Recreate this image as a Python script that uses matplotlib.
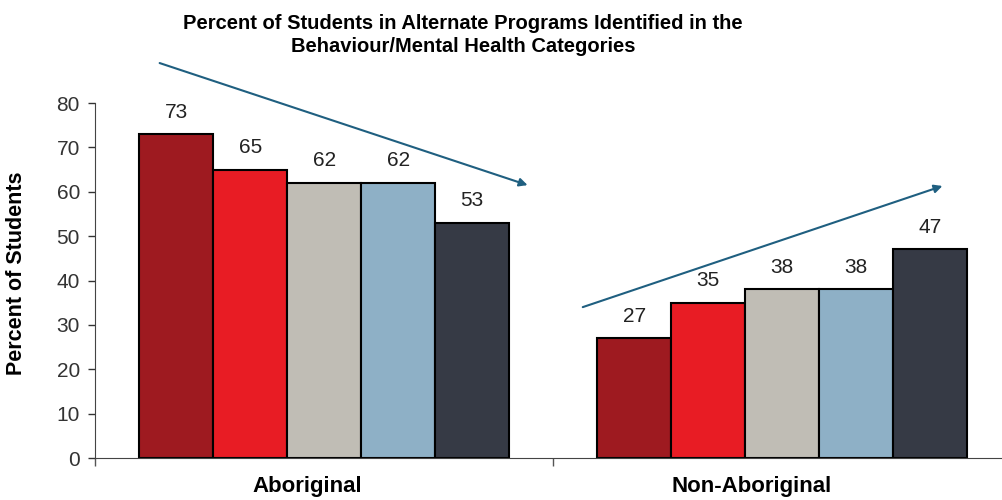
import matplotlib.pyplot as plt
import numpy as np

# data
groups = ['Aboriginal', 'Non-Aboriginal']
series_colors = ['#9E1A20', '#E81C24', '#C0BDB5', '#8EB0C6', '#363A45']
values = [
    [73, 27],
    [65, 35],
    [62, 38],
    [62, 38],
    [53, 47],
]
yticks = [0, 10, 20, 30, 40, 50, 60, 70, 80]

plt.rcParams['font.family'] = ['Liberation Sans', 'DejaVu Sans']

fig = plt.figure(figsize=(10.02, 5.0), dpi=100)
# axis runs a little past the right edge, as in the original
ax = fig.add_axes([0.095, 0.084, 0.914, 0.71])

n = len(values)
group_w = 0.808
width = group_w / n
centers = np.arange(len(groups)) + 0.5

for i, (vals, col) in enumerate(zip(values, series_colors)):
    x = centers - group_w / 2 + width * (i + 0.5)
    bars = ax.bar(x, vals, width=width, color=col, edgecolor='black', linewidth=1.5)
    for b, v in zip(bars, vals):
        ax.annotate(str(v), (b.get_x() + b.get_width() / 2, v),
                    xytext=(0, 9), textcoords='offset points',
                    ha='center', va='bottom', fontsize=15, color='#222222')

ax.set_xlim(0, 2)
ax.set_ylim(0, 80)
ax.set_yticks(yticks)
ax.tick_params(axis='y', labelsize=15, length=5, width=1, colors='#333333', pad=6)
ax.set_xticks([0, 1, 2])
ax.set_xticklabels([])
ax.tick_params(axis='x', which='major', length=6, width=1, colors='#555555')
# group labels sit slightly left of the group centres in the original
ax.set_xticks([0.463, 1.434], minor=True)
ax.set_xticklabels(groups, minor=True, fontsize=16, fontweight='bold',
                   family=['Liberation Sans Narrow', 'Liberation Sans'])
ax.tick_params(axis='x', which='minor', length=0, pad=13, labelcolor='black')

for s in ['top', 'right']:
    ax.spines[s].set_visible(False)
for s in ['left', 'bottom']:
    ax.spines[s].set_color('#444444')

ax.set_ylabel('Percent of Students', fontsize=15.5, fontweight='bold')
ax.yaxis.set_label_coords(-0.075, 0.52)

# trend arrows
arrow_col = '#1F5F80'
ax.annotate('', xy=(0.950, 61.3), xytext=(0.135, 89.2),
            arrowprops=dict(arrowstyle='-|>', color=arrow_col, lw=1.5, mutation_scale=12),
            annotation_clip=False)
ax.annotate('', xy=(1.856, 61.5), xytext=(1.059, 33.8),
            arrowprops=dict(arrowstyle='-|>', color=arrow_col, lw=1.5, mutation_scale=12),
            annotation_clip=False)

fig.text(0.462, 0.972, 'Percent of Students in Alternate Programs Identified in the\nBehaviour/Mental Health Categories',
         ha='center', va='top', fontsize=14.5, fontweight='bold', linespacing=1.25)

fig.savefig('out.png', dpi=100)
